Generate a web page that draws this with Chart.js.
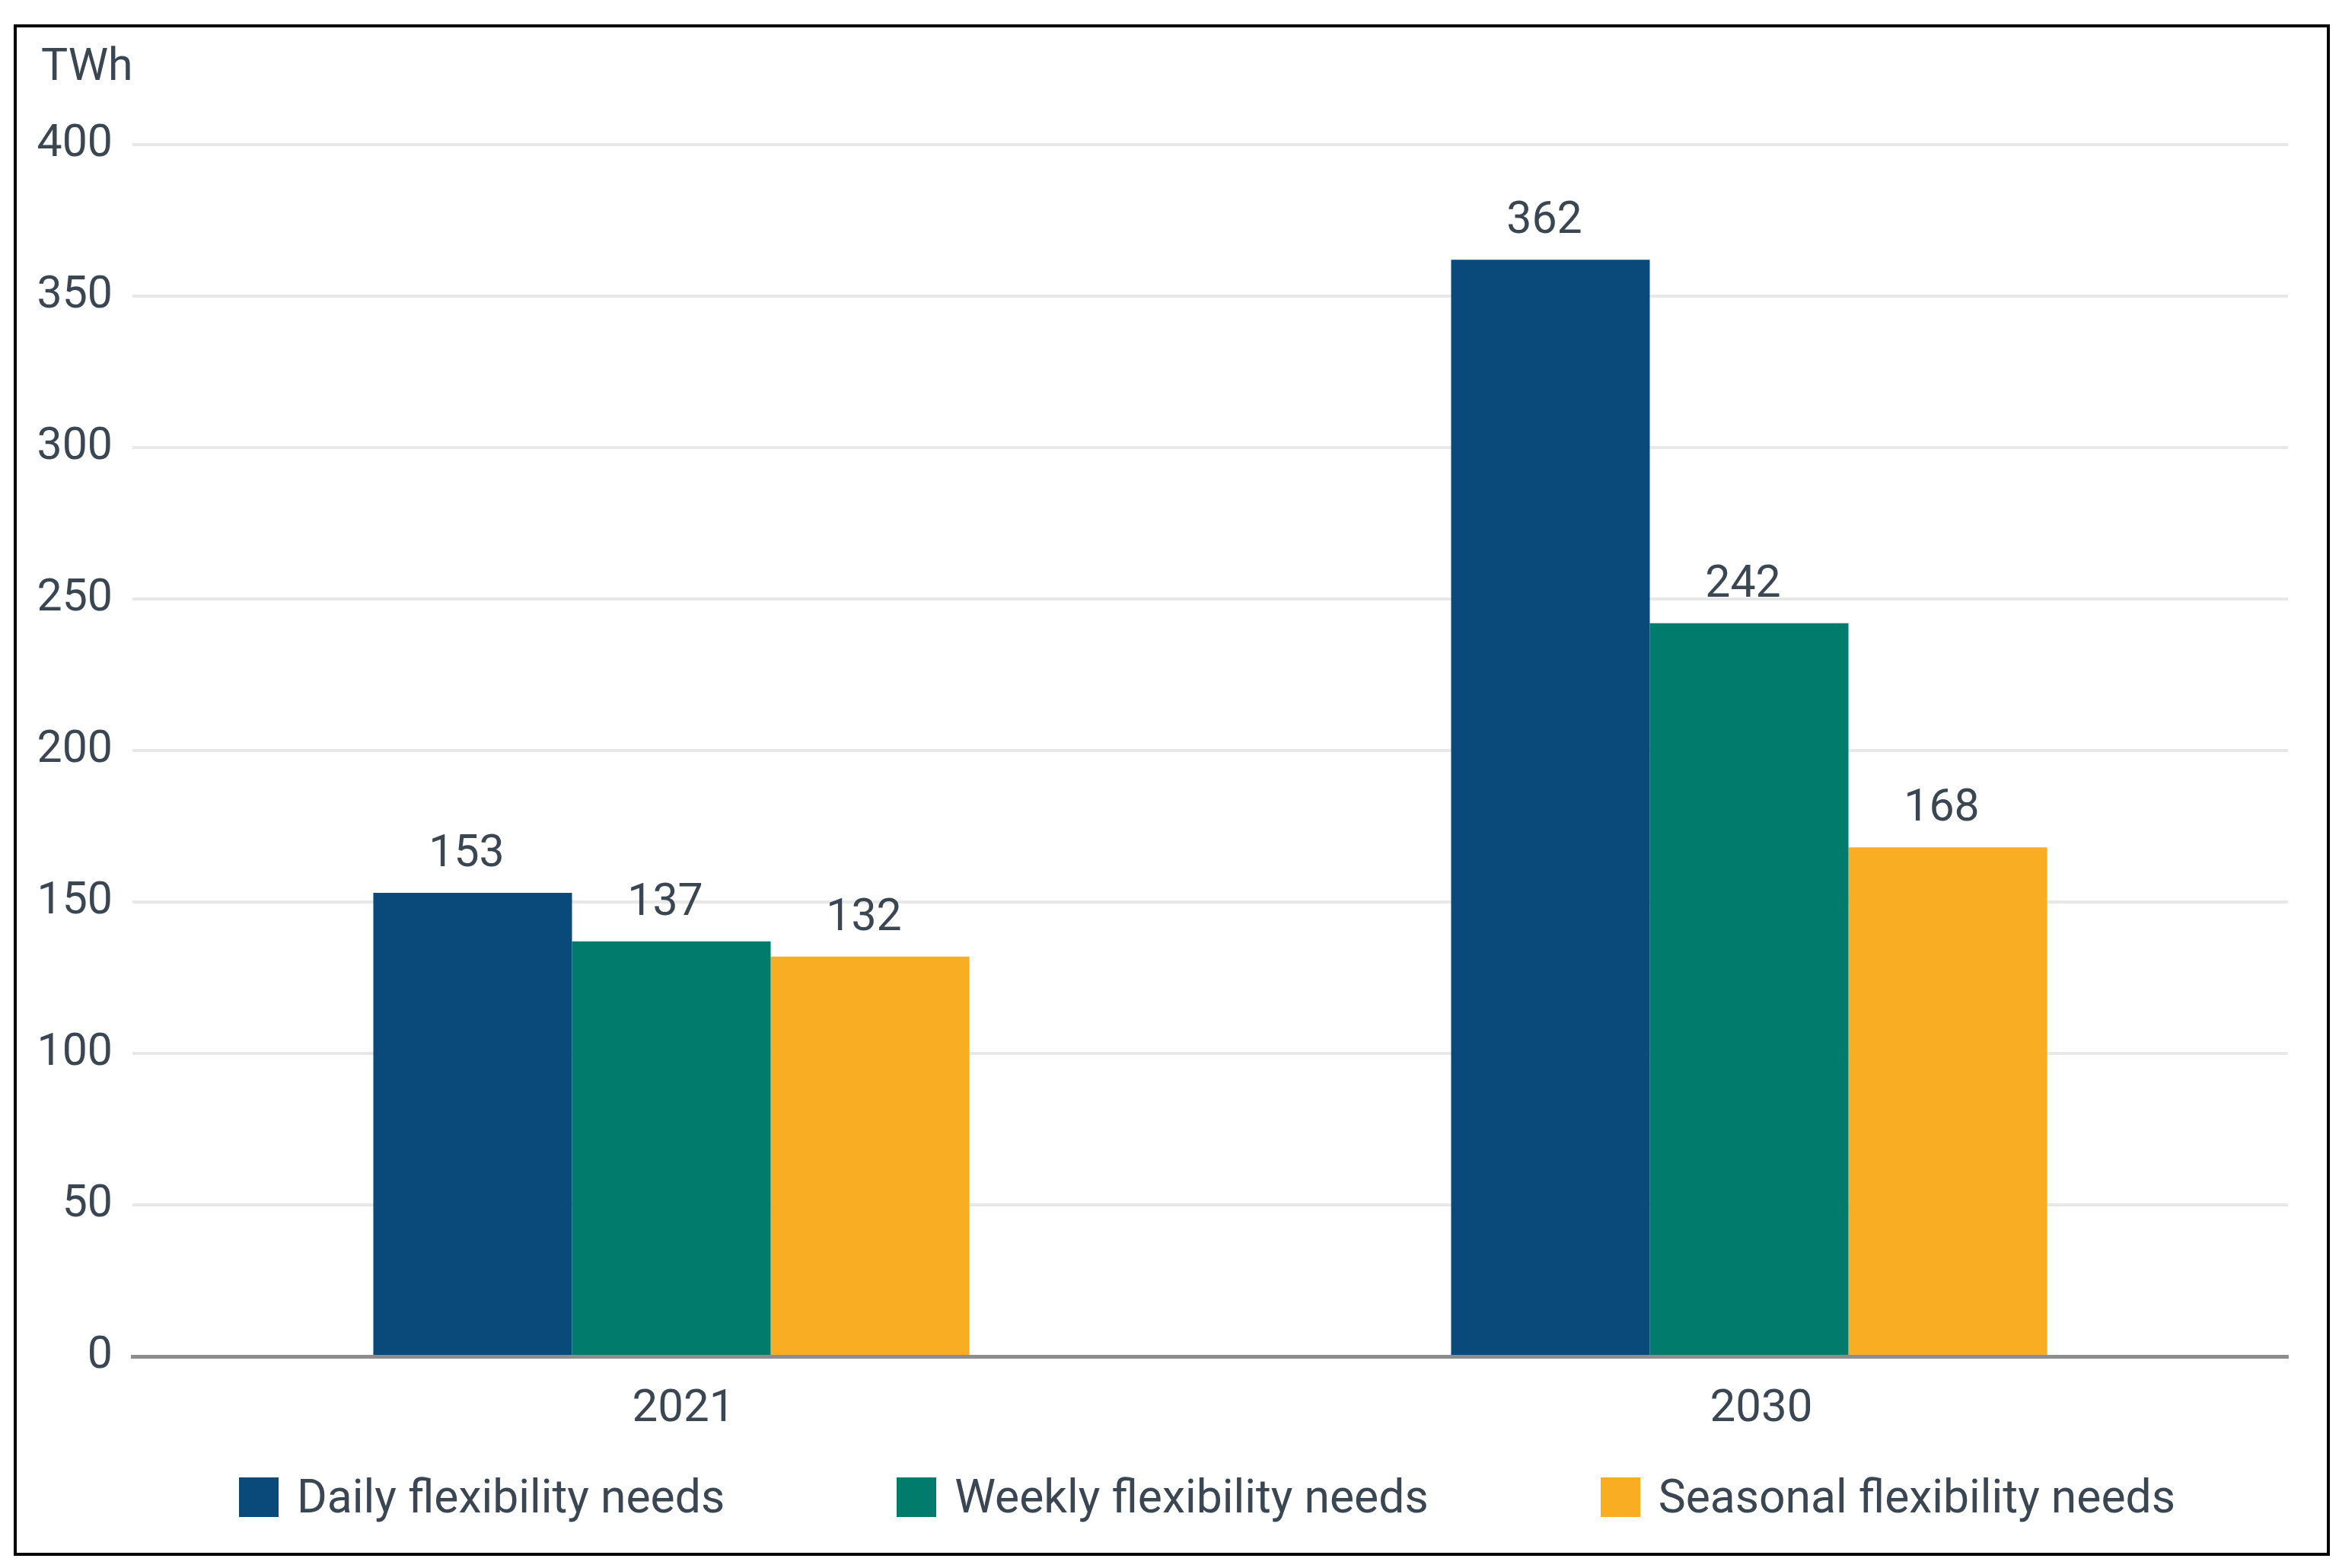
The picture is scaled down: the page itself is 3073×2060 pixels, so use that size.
<!DOCTYPE html>
<html>
<head>
<meta charset="utf-8">
<script src="https://cdn.jsdelivr.net/npm/chart.js@4.4.1/dist/chart.umd.min.js"></script>
<style>
  body { margin: 0; background: #fff; overflow: hidden; font-family: Roboto, sans-serif; }
  #frame { position: absolute; left: 18px; top: 32px; width: 3035px; height: 2004px; border: 4px solid #000; }
  #chart { position: absolute; left: 0; top: 0; }
  #legend { position: absolute; left: 314px; top: 1941px; display: flex; gap: 226px; }
  .item { display: flex; align-items: center; height: 52px; }
  .box { width: 52px; height: 52px; margin-right: 24px; }
  .label { font-size: 60.6px; line-height: 52px; color: #3a4651; white-space: nowrap; }
</style>
</head>
<body>
<div id="frame"></div>
<canvas id="chart" width="3073" height="2060"></canvas>
<div id="legend"></div>
<script>
const years = ['2021', '2030'];
const seriesNames = ['Daily flexibility needs', 'Weekly flexibility needs', 'Seasonal flexibility needs'];
const daily = [153, 362];
const weekly = [137, 242];
const seasonal = [132, 168];
const colors = ['#0a4a7b', '#007b6c', '#f9ad22'];
const yMax = 400;
const yStep = 50;
const unit = 'TWh';
const textColor = '#3a4651';

// numbers above the bars
const valueLabels = {
    id: 'valueLabels',
    afterDatasetsDraw(chart) {
        const ctx = chart.ctx;
        ctx.save();
        ctx.font = '59px Roboto';
        ctx.fillStyle = textColor;
        ctx.textAlign = 'center';
        ctx.textBaseline = 'alphabetic';
        chart.data.datasets.forEach((ds, i) => {
            chart.getDatasetMeta(i).data.forEach((bar, j) => {
                ctx.fillText(ds.data[j], bar.x - 8, bar.y - 35);
            });
        });
        ctx.restore();
    }
};

// unit above the y axis
const unitLabel = {
    id: 'unitLabel',
    afterDraw(chart) {
        const ctx = chart.ctx;
        ctx.save();
        ctx.font = '59px Roboto';
        ctx.fillStyle = textColor;
        ctx.textAlign = 'left';
        ctx.textBaseline = 'alphabetic';
        ctx.fillText(unit, 54, 105);
        ctx.restore();
    }
};

const ctx = document.getElementById('chart').getContext('2d');
const chart = new Chart(ctx, {
    type: 'bar',
    data: {
        labels: years,
        datasets: [
            { label: seriesNames[0], data: daily, backgroundColor: colors[0] },
            { label: seriesNames[1], data: weekly, backgroundColor: colors[1] },
            { label: seriesNames[2], data: seasonal, backgroundColor: colors[2] }
        ]
    },
    options: {
        responsive: false,
        animation: false,
        devicePixelRatio: 1,
        layout: { padding: { left: 0, right: 67, top: 190, bottom: 168 } },
        datasets: {
            bar: { categoryPercentage: 0.553, barPercentage: 1.0, borderWidth: 0 }
        },
        plugins: {
            legend: { display: false },
            tooltip: { enabled: false }
        },
        scales: {
            x: {
                grid: { display: false },
                border: { display: true, color: 'rgba(125,125,125,0.85)', width: 5, z: 1 },
                ticks: { color: textColor, font: { family: 'Roboto', size: 60 }, padding: 26, labelOffset: 16 },
                afterFit(scale) { scale.height = 110; }
            },
            y: {
                min: 0,
                max: yMax,
                grid: { color: '#e8e8e8', lineWidth: 4, drawTicks: false },
                border: { display: false },
                ticks: { stepSize: yStep, color: textColor, font: { family: 'Roboto', size: 59 }, padding: 26 },
                afterFit(scale) { scale.width = 174; }
            }
        }
    },
    plugins: [valueLabels, unitLabel]
});

// html legend from the chart's own legend items
const legendEl = document.getElementById('legend');
Chart.defaults.plugins.legend.labels.generateLabels(chart).forEach(item => {
    const div = document.createElement('div');
    div.className = 'item';
    const box = document.createElement('span');
    box.className = 'box';
    box.style.background = item.fillStyle;
    const txt = document.createElement('span');
    txt.className = 'label';
    txt.textContent = item.text;
    div.appendChild(box);
    div.appendChild(txt);
    legendEl.appendChild(div);
});
</script>
</body>
</html>
